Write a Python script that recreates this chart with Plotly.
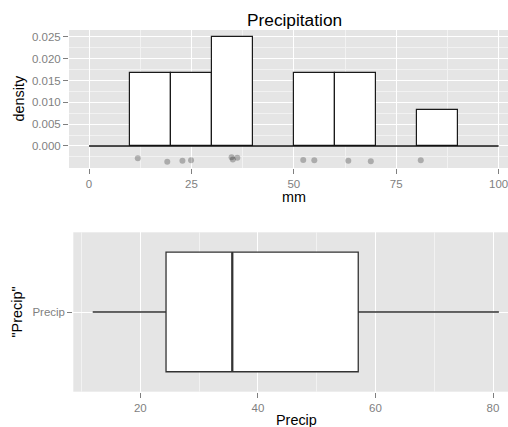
import numpy as np
import plotly.graph_objects as go

# Data
precip = [11.9, 19.1, 22.8, 24.9, 34.8, 35.1, 36.2, 52.3, 55.0, 63.3, 68.8, 81.0]
jitter_y = [-0.0028, -0.0036, -0.0034, -0.0033, -0.0026, -0.0031, -0.0027,
            -0.0032, -0.0033, -0.0034, -0.0035, -0.0033]
bin_edges = [0, 10, 20, 30, 40, 50, 60, 70, 80, 90, 100]
hist_x_ticks = [0, 25, 50, 75, 100]
hist_y_ticks = [0.0, 0.005, 0.010, 0.015, 0.020, 0.025]
box_x_ticks = [20, 40, 60, 80]
box_label = "Precip"

W, H = 508, 427
FONT = "Liberation Sans, Arial, sans-serif"
GREY50 = "#7f7f7f"
PANEL = "#e5e5e5"
MINOR = "#f2f2f2"

vals = np.array(precip)
q1, med, q3 = np.percentile(vals, [25, 50, 75])
lo, hi = vals.min(), vals.max()

fig = go.Figure()

# histogram (density)
fig.add_trace(go.Histogram(
    x=precip, xbins=dict(start=bin_edges[0], end=bin_edges[-1], size=bin_edges[1] - bin_edges[0]),
    histnorm="probability density",
    marker=dict(color="white", line=dict(color="#1a1a1a", width=1.2)),
    xaxis="x", yaxis="y", showlegend=False))
# baseline across empty bins
fig.add_trace(go.Scatter(
    x=[bin_edges[0], bin_edges[-1]], y=[0, 0], mode="lines",
    line=dict(color="#111111", width=1.3), xaxis="x", yaxis="y", showlegend=False))
# jittered points
fig.add_trace(go.Scatter(
    x=precip, y=jitter_y, mode="markers",
    marker=dict(color="rgba(0,0,0,0.25)", size=6, line=dict(width=0)),
    xaxis="x", yaxis="y", showlegend=False))

# boxplot
fig.add_trace(go.Box(
    y=[0], q1=[q1], median=[med], q3=[q3], lowerfence=[lo], upperfence=[hi],
    orientation="h", width=0.9, whiskerwidth=0,
    fillcolor="white", line=dict(color="#333333", width=1.3),
    xaxis="x2", yaxis="y2", showlegend=False, boxpoints=False))
fig.add_trace(go.Scatter(
    x=[med, med], y=[-0.45, 0.45], mode="lines",
    line=dict(color="#333333", width=2.2), xaxis="x2", yaxis="y2", showlegend=False))

tickfont = dict(family=FONT, size=11.5, color=GREY50)
common = dict(showline=False, zeroline=False, ticks="outside", ticklen=5,
              tickcolor=GREY50, tickwidth=1, tickfont=tickfont,
              gridcolor="white", gridwidth=1, ticklabeloverflow="allow")

fig.update_layout(
    width=W, height=H, margin=dict(l=0, r=0, t=0, b=0),
    paper_bgcolor="white", plot_bgcolor=PANEL, bargap=0,
    font=dict(family=FONT),
    xaxis=dict(domain=[69 / W, 1], range=[-4.9, 102.3], anchor="y",
               tickvals=hist_x_ticks,
               minor=dict(dtick=12.5, tick0=0, showgrid=True, gridcolor=MINOR, gridwidth=0.8, ticks=""),
               **common),
    yaxis=dict(domain=[1 - 168 / H, 1 - 30 / H], range=[-0.00505, 0.0266], anchor="x",
               tickvals=hist_y_ticks, tickformat=".3f",
               minor=dict(dtick=0.0025, tick0=0, showgrid=True, gridcolor=MINOR, gridwidth=0.8, ticks=""),
               **common),
    xaxis2=dict(domain=[73.3 / W, 1], range=[8.6, 82.55], anchor="y2",
                tickvals=box_x_ticks,
                minor=dict(dtick=10, tick0=0, showgrid=True, gridcolor=MINOR, gridwidth=0.8, ticks=""),
                **common),
    yaxis2=dict(domain=[1 - 391.7 / H, 1 - 232.3 / H], range=[-0.6, 0.6], anchor="x2",
                tickvals=[0], ticktext=[box_label], **common),
    annotations=[
        dict(text="Precipitation", x=294 / W, y=1 - 20 / H, xref="paper", yref="paper",
             showarrow=False, font=dict(family=FONT, size=17.3, color="black"),
             xanchor="center", yanchor="middle"),
        dict(text="mm", x=294 / W, y=1 - 197 / H, xref="paper", yref="paper",
             showarrow=False, font=dict(family=FONT, size=14.4, color="black"),
             xanchor="center", yanchor="middle"),
        dict(text="density", x=18.5 / W, y=1 - 99 / H, xref="paper", yref="paper",
             showarrow=False, textangle=-90, font=dict(family=FONT, size=14.4, color="black"),
             xanchor="center", yanchor="middle"),
        dict(text="Precip", x=296 / W, y=1 - 420 / H, xref="paper", yref="paper",
             showarrow=False, font=dict(family=FONT, size=14.4, color="black"),
             xanchor="center", yanchor="middle"),
        dict(text='"Precip"', x=16.5 / W, y=1 - 312 / H, xref="paper", yref="paper",
             showarrow=False, textangle=-90, font=dict(family=FONT, size=14.4, color="black"),
             xanchor="center", yanchor="middle"),
    ],
)

fig.write_html(
    "out.html",
    config={"displayModeBar": False},
    post_script="document.body.style.margin='0';document.body.style.overflow='hidden';",
)
